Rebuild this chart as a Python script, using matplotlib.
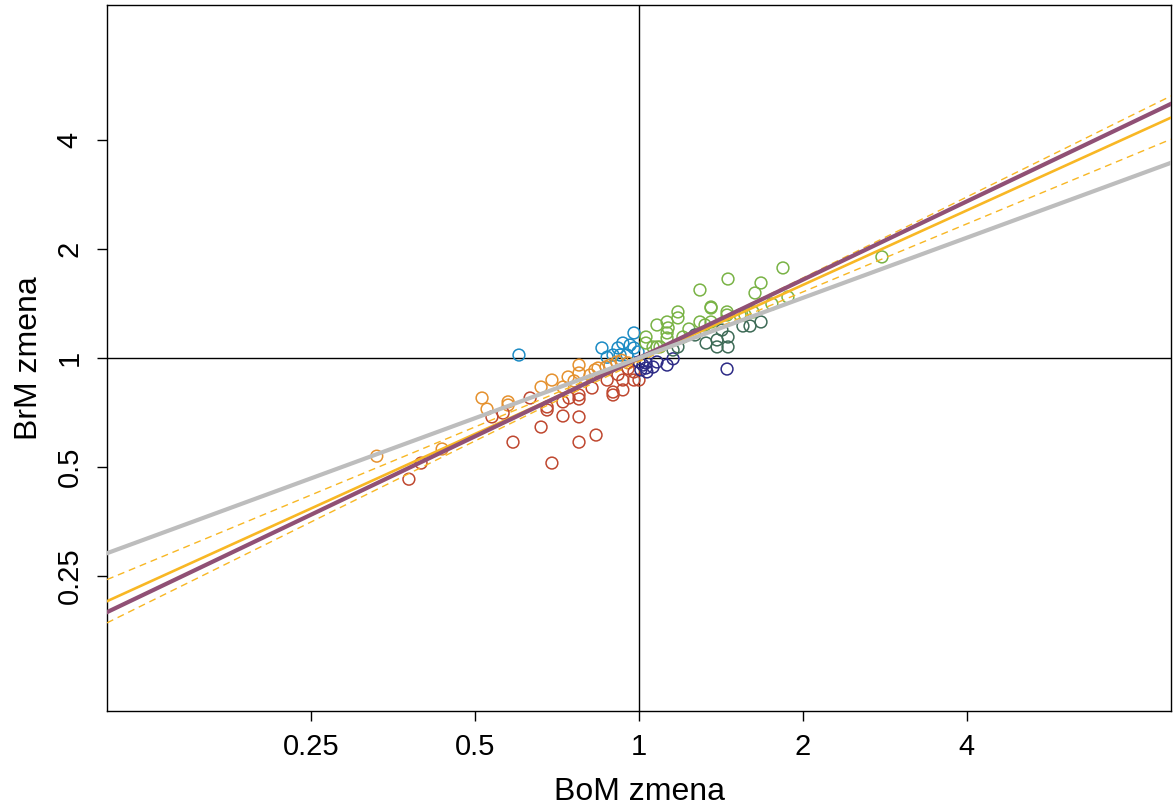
import numpy as np
import matplotlib
matplotlib.use("Agg")
import matplotlib.pyplot as plt

plt.rcParams['font.family'] = ['Liberation Sans', 'DejaVu Sans']

# fold changes (BoM, BrM) per group
blue_x = [0.602, 0.855, 0.915, 0.934, 0.979, 0.979, 0.874, 0.896, 0.951, 0.996, 0.963, 0.923]
blue_y = [1.019, 1.066, 1.066, 1.100, 1.173, 1.066, 1.005, 1.019, 1.019, 1.039, 1.086, 1.019]

orange_x = [0.330, 0.435, 0.515, 0.526, 0.575, 0.575, 0.661, 0.692, 0.741, 0.776, 0.776, 0.830,
            0.841, 0.911, 0.955, 0.725, 0.760, 0.885, 0.813, 0.930, 0.870]
orange_y = [0.535, 0.560, 0.775, 0.722, 0.756, 0.741, 0.831, 0.869, 0.886, 0.956, 0.909, 0.927,
            0.938, 0.975, 0.969, 0.831, 0.864, 0.956, 0.897, 0.985, 0.945]

red_x = [0.378, 0.398, 0.537, 0.563, 0.587, 0.631, 0.661, 0.678, 0.678, 0.692, 0.725, 0.725,
         0.744, 0.776, 0.776, 0.776, 0.776, 0.820, 0.834, 0.874, 0.896, 0.896, 0.934, 0.934,
         0.979, 0.979, 1.000, 0.955, 0.915]
red_y = [0.462, 0.512, 0.687, 0.704, 0.585, 0.775, 0.644, 0.732, 0.718, 0.512, 0.691, 0.756,
         0.775, 0.687, 0.585, 0.790, 0.770, 0.826, 0.612, 0.869, 0.805, 0.790, 0.869, 0.816,
         0.915, 0.869, 0.869, 0.935, 0.900]

navy_x = [1.000, 1.017, 1.034, 1.079, 1.126, 1.155, 1.451, 1.030, 1.030, 1.061, 1.008]
navy_y = [0.975, 0.956, 0.915, 0.975, 0.956, 0.995, 0.932, 0.969, 0.938, 0.944, 0.927]

lgreen_x = [1.030, 1.079, 1.126, 1.126, 1.126, 1.179, 1.179, 1.204, 1.235, 1.294, 1.356, 1.451,
            1.079, 1.838, 1.457, 1.675, 1.294, 1.633, 1.877, 1.754, 1.356, 1.451, 1.131, 1.322,
            1.533, 1.619, 1.030, 1.061, 1.093, 2.793, 1.356, 1.565]
lgreen_y = [1.143, 1.234, 1.258, 1.173, 1.136, 1.341, 1.291, 1.143, 1.203, 1.258, 1.384, 1.341,
            1.073, 1.775, 1.654, 1.613, 1.542, 1.513, 1.475, 1.411, 1.375, 1.315, 1.211, 1.234,
            1.315, 1.341, 1.100, 1.073, 1.073, 1.904, 1.258, 1.315]

dgreen_x = [1.328, 1.391, 1.391, 1.457, 1.457, 1.420, 1.552, 1.599, 1.675, 1.155, 1.179, 1.267]
dgreen_y = [1.100, 1.122, 1.073, 1.143, 1.073, 1.195, 1.226, 1.226, 1.258, 1.052, 1.073, 1.158]

# fitted lines in log2 space: (intercept, slope)
gray_fit = (0.0, 0.553)
purple_fit = (0.0, 0.720)
yellow_fit = (-0.013, 0.685)
band_se = (0.02, 0.061)   # half width of dashed band: centre, per log2 unit

tick_vals = [0.25, 0.5, 1, 2, 4]
tick_labels = ['0.25', '0.5', '1', '2', '4']

W, H = 1173, 807
fig = plt.figure(figsize=(W / 100, H / 100), dpi=100)
ax = fig.add_axes([107 / W, 1 - 711 / H, (1171 - 107) / W, (711 - 5) / H])
ax.set_xscale('log', base=2)
ax.set_yscale('log', base=2)
lim = 3.245
ax.set_xlim(2 ** -lim, 2 ** lim)
ax.set_ylim(2 ** -lim, 2 ** lim)

ax.axvline(1, color='black', lw=1.0, zorder=1)
ax.axhline(1, color='black', lw=1.0, zorder=1)

groups = [
    (blue_x, blue_y, '#1c8bc4'),
    (orange_x, orange_y, '#e5912e'),
    (red_x, red_y, '#bf472f'),
    (navy_x, navy_y, '#2d2b86'),
    (lgreen_x, lgreen_y, '#79b345'),
    (dgreen_x, dgreen_y, '#3e6b57'),
]
for gx, gy, col in groups:
    ax.scatter(gx, gy, s=72, facecolors='none', edgecolors=col, linewidths=1.1, zorder=2)

lx = np.linspace(-lim, lim, 200)
yl = yellow_fit[0] + yellow_fit[1] * lx
hw = np.sqrt(band_se[0] ** 2 + (band_se[1] * lx) ** 2)
ax.plot(2 ** lx, 2 ** (yl + hw), color='#f8b724', lw=1.0, ls=(0, (5, 3.5)), zorder=3)
ax.plot(2 ** lx, 2 ** (yl - hw), color='#f8b724', lw=1.0, ls=(0, (5, 3.5)), zorder=3)
ax.plot(2 ** lx, 2 ** yl, color='#f8b724', lw=1.9, zorder=4)
ax.plot(2 ** lx, 2 ** (purple_fit[0] + purple_fit[1] * lx), color='#905075', lw=3.0, zorder=5)
ax.plot(2 ** lx, 2 ** (gray_fit[0] + gray_fit[1] * lx), color='#bdbdbd', lw=3.0, zorder=6)

ax.set_xticks(tick_vals)
ax.set_xticklabels(tick_labels)
ax.set_yticks(tick_vals)
ax.set_yticklabels(tick_labels, rotation=90, va='center')
ax.minorticks_off()
ax.tick_params(axis='both', labelsize=21, length=7, width=1.0, direction='out')
ax.tick_params(axis='x', pad=9)
ax.tick_params(axis='y', pad=10)
for sp in ax.spines.values():
    sp.set_linewidth(1.0)

ax.set_xlabel('BoM zmena', fontsize=23, labelpad=11)
ax.set_ylabel('BrM zmena', fontsize=23, labelpad=8)

fig.savefig('out.png', dpi=100)
